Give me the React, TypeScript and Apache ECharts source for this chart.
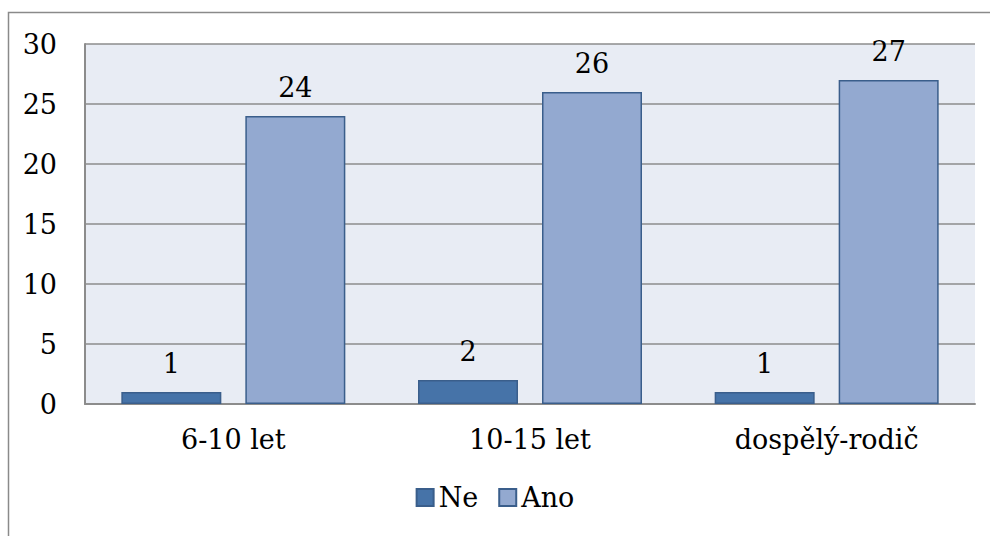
import React, { useEffect, useRef } from "react";
import * as echarts from "echarts";

const categories = ["6-10 let", "10-15 let", "dospělý-rodič"];
const neValues = [1, 2, 1];
const anoValues = [24, 26, 27];
const seriesNames = ["Ne", "Ano"];

const FONT = "DejaVu Serif";
const FONT_SIZE = 27;

export default function App() {
  const ref = useRef<HTMLDivElement>(null);

  useEffect(() => {
    if (!ref.current) return;
    const chart = echarts.init(ref.current, undefined, { renderer: "svg" });
    const labelStyle = {
      show: true,
      position: "top" as const,
      distance: 15,
      fontFamily: FONT,
      fontSize: FONT_SIZE,
      color: "#000",
    };
    chart.setOption({
      animation: false,
      backgroundColor: "#fff",
      textStyle: { fontFamily: FONT },
      graphic: [
        {
          type: "rect",
          shape: { x: 8.5, y: 12.5, width: 1100, height: 700 },
          style: { fill: "none", stroke: "#8a8a8a", lineWidth: 1.5 },
          silent: true,
          z: -10,
        },
      ],
      grid: {
        left: 85,
        top: 44,
        width: 890,
        height: 360,
        show: true,
        backgroundColor: "#E8ECF4",
        borderWidth: 0,
      },
      legend: {
        bottom: 20,
        left: "center",
        itemWidth: 17,
        itemHeight: 17,
        itemGap: 20,
        icon: "rect",
        textStyle: { fontFamily: FONT, fontSize: FONT_SIZE, color: "#000" },
        data: seriesNames,
      },
      xAxis: {
        type: "category",
        data: categories,
        axisLine: { show: true, lineStyle: { color: "#8c8c8c", width: 2 } },
        axisTick: { show: false },
        axisLabel: {
          fontFamily: FONT,
          fontSize: FONT_SIZE,
          color: "#000",
          margin: 22,
        },
      },
      yAxis: {
        type: "value",
        min: 0,
        max: 30,
        interval: 5,
        axisLine: { show: true, lineStyle: { color: "#8c8c8c", width: 2 } },
        axisTick: { show: false },
        splitLine: { show: true, lineStyle: { color: "#8c8c8c", width: 1.5 } },
        axisLabel: {
          fontFamily: FONT,
          fontSize: FONT_SIZE,
          color: "#000",
          margin: 28,
        },
      },
      series: [
        {
          name: seriesNames[0],
          type: "bar",
          data: neValues,
          barWidth: 100,
          barGap: "24%",
          itemStyle: { color: "#4673A8", borderColor: "#3A5E8B", borderWidth: 1.5 },
          label: labelStyle,
        },
        {
          name: seriesNames[1],
          type: "bar",
          data: anoValues,
          barWidth: 100,
          itemStyle: { color: "#93A9D0", borderColor: "#3A5E8B", borderWidth: 1.5 },
          label: labelStyle,
        },
      ],
    });
    return () => chart.dispose();
  }, []);

  return (
    <div
      ref={ref}
      style={{ position: "fixed", left: 0, top: 0, width: 990, height: 536 }}
    />
  );
}
